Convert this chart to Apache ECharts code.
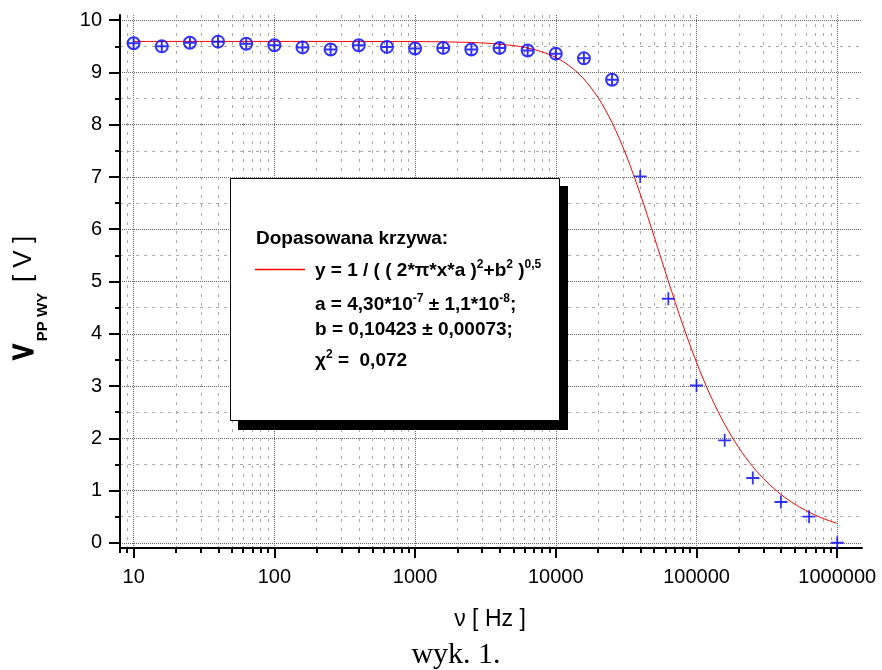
<!DOCTYPE html>
<html>
<head>
<meta charset="utf-8">
<script src="https://cdn.jsdelivr.net/npm/echarts@6/dist/echarts.min.js"></script>
<style>
  html, body { margin: 0; padding: 0; background: #fff; }
  #chart { width: 882px; height: 670px; }
</style>
</head>
<body>
<div id="chart"></div>
<script>
// pomiary: czestotliwosc [Hz] i napiecie V_PP WY [V]
const freq = [10, 15.85, 25.12, 39.81, 63.1, 100, 158.5, 251.2, 398.1, 631, 1000, 1585, 2512, 3981, 6310,
  10000, 15849, 25119, 39811, 63096, 100000, 158489, 251189, 398107, 630957, 1000000]
const volt = [9.56, 9.50, 9.57, 9.59, 9.55, 9.52, 9.48, 9.44, 9.52, 9.49, 9.46, 9.47, 9.44, 9.47, 9.42,
  9.36, 9.27, 8.86, 7.01, 4.67, 3.01, 1.96, 1.24, 0.78, 0.50, 0.00]
// pierwsze punkty rysowane jako kolko z krzyzykiem
const circled = 18

// dopasowana krzywa
const fitX = [10, 100, 1000, 2000, 3162, 5012, 6310, 7943, 10000, 12589, 15849, 19953, 25119, 31623, 39811,
  50119, 63096, 79433, 100000, 125893, 158489, 199526, 251189, 316228, 398107, 501187, 630957, 794328, 1000000]
const fitY = [9.594, 9.594, 9.591, 9.581, 9.562, 9.514, 9.468, 9.397, 9.287, 9.121, 8.874, 8.522, 8.040, 7.420, 6.677,
  5.852, 5.005, 4.191, 3.453, 2.811, 2.269, 1.821, 1.456, 1.162, 0.925, 0.736, 0.586, 0.465, 0.370]

// podzialki
const xMajor = [10, 100, 1000, 10000, 100000, 1000000]
const xMinor = [8, 9, 20, 30, 40, 50, 60, 70, 80, 90, 200, 300, 400, 500, 600, 700, 800, 900,
  2000, 3000, 4000, 5000, 6000, 7000, 8000, 9000, 20000, 30000, 40000, 50000, 60000, 70000, 80000, 90000,
  200000, 300000, 400000, 500000, 600000, 700000, 800000, 900000]
const yMajor = [0, 1, 2, 3, 4, 5, 6, 7, 8, 9, 10]
const yMinor = [0.5, 1.5, 2.5, 3.5, 4.5, 5.5, 6.5, 7.5, 8.5, 9.5]

const circlePlus = 'path://M1,10A9,9,0,1,1,19,10A9,9,0,1,1,1,10ZM1,10L19,10M10,1L10,19'
const plus = 'path://M0,10L20,10M10,0L10,20'
const sans = '"Liberation Sans", Arial, sans-serif'

const richLegend = {
  n: { fontFamily: sans, fontSize: 19, fontWeight: 'bold', lineHeight: 24, fill: '#000' },
  s: { fontFamily: sans, fontSize: 12, fontWeight: 'bold', lineHeight: 14, verticalAlign: 'top', fill: '#000' }
}

const chart = echarts.init(document.getElementById('chart'))
chart.setOption({
  animation: false,
  grid: { left: 120, right: 20, top: 15, bottom: 122 },
  xAxis: [{
    type: 'log',
    min: 8,
    max: 1500000,
    position: 'bottom',
    axisLine: { onZero: false, lineStyle: { color: '#000', width: 2 } },
    axisTick: { customValues: xMajor, length: 10, lineStyle: { color: '#000', width: 2 } },
    axisLabel: {
      customValues: xMajor, margin: 19, color: '#000', fontFamily: sans, fontSize: 20,
      formatter: v => String(Math.round(v))
    },
    splitLine: { show: true, lineStyle: { color: '#666', type: 'dotted', width: 1 } }
  }, {
    type: 'log',
    min: 8,
    max: 1500000,
    position: 'bottom',
    axisLine: { show: false, onZero: false },
    axisTick: { customValues: xMinor, length: 5, lineStyle: { color: '#000', width: 2 } },
    axisLabel: { show: false },
    splitLine: { show: true, lineStyle: { color: '#aaa', type: [3, 6], width: 1 } }
  }],
  yAxis: [{
    type: 'value',
    min: -0.1,
    max: 10.1,
    position: 'left',
    axisLine: { show: true, onZero: false, lineStyle: { color: '#000', width: 2 } },
    axisTick: { show: true, customValues: yMajor, length: 11, lineStyle: { color: '#000', width: 2 } },
    axisLabel: { customValues: yMajor, margin: 18, color: '#000', fontFamily: sans, fontSize: 20 },
    splitLine: { show: true, lineStyle: { color: '#666', type: 'dotted', width: 1 } }
  }, {
    type: 'value',
    min: -0.1,
    max: 10.1,
    position: 'left',
    axisLine: { show: false, onZero: false },
    axisTick: { show: true, customValues: yMinor, length: 5, lineStyle: { color: '#000', width: 2 } },
    axisLabel: { show: false },
    splitLine: { show: true, lineStyle: { color: '#aaa', type: [3, 5], width: 1 } }
  }],
  series: [{
    type: 'line',
    data: fitX.map((x, i) => [x, fitY[i]]),
    showSymbol: false,
    smooth: 0.3,
    silent: true,
    lineStyle: { color: '#ff0000', width: 1 },
    z: 2
  }, {
    type: 'scatter',
    data: freq.slice(0, circled).map((x, i) => [x, volt[i]]),
    symbol: circlePlus,
    symbolSize: 12,
    silent: true,
    itemStyle: { color: 'transparent', borderColor: '#0000ff', borderWidth: 2 },
    z: 3
  }, {
    type: 'scatter',
    data: freq.slice(circled).map((x, i) => [x, volt[i + circled]]),
    symbol: plus,
    symbolSize: 13,
    silent: true,
    itemStyle: { color: 'transparent', borderColor: '#0000ff', borderWidth: 1.8 },
    z: 3
  }],
  graphic: [
    // legenda z cieniem
    { type: 'rect', z: 100, shape: { x: 238, y: 186, width: 330, height: 244 }, style: { fill: '#000' } },
    { type: 'rect', z: 101, shape: { x: 230.5, y: 178.5, width: 329, height: 242 }, style: { fill: '#fff', stroke: '#000', lineWidth: 1 } },
    { type: 'text', z: 102, x: 256, y: 239, style: { text: 'Dopasowana krzywa:', font: 'bold 19px ' + sans, fill: '#000', align: 'left', verticalAlign: 'middle' } },
    { type: 'line', z: 103, shape: { x1: 255, y1: 269.5, x2: 305, y2: 269.5 }, style: { stroke: '#ff0000', lineWidth: 1.3, fill: null } },
    {
      type: 'text', z: 102, x: 315, y: 271,
      style: { text: '{n|y = 1 / ( ( 2*π*x*a )}{s|2}{n|+b}{s|2}{n| )}{s|0,5}', align: 'left', verticalAlign: 'middle', rich: richLegend }
    },
    {
      type: 'text', z: 102, x: 315, y: 305,
      style: { text: '{n|a = 4,30*10}{s|-7}{n| ± 1,1*10}{s|-8}{n|;}', align: 'left', verticalAlign: 'middle', rich: richLegend }
    },
    { type: 'text', z: 102, x: 315, y: 330, style: { text: 'b = 0,10423 ± 0,00073;', font: 'bold 19px ' + sans, fill: '#000', align: 'left', verticalAlign: 'middle' } },
    {
      type: 'text', z: 102, x: 315, y: 361,
      style: { text: '{n|χ}{s|2}{n| =  0,072}', align: 'left', verticalAlign: 'middle', rich: richLegend }
    },
    // opis osi Y
    { type: 'text', x: 25, y: 352, rotation: Math.PI / 2, scaleX: 0.8, style: { text: 'V', font: 'bold 30px ' + sans, fill: '#000', stroke: '#000', lineWidth: 1.2, align: 'center', verticalAlign: 'middle' } },
    { type: 'text', x: 43, y: 317, rotation: Math.PI / 2, style: { text: 'PP WY', font: 'bold 15px ' + sans, fill: '#000', align: 'center', verticalAlign: 'middle' } },
    { type: 'text', x: 24, y: 259, rotation: Math.PI / 2, style: { text: '[ V ]', font: '26px ' + sans, fill: '#000', align: 'center', verticalAlign: 'middle' } },
    // opis osi X i podpis
    { type: 'text', x: 490, y: 620, style: { text: 'ν [ Hz ]', font: '23px ' + sans, fill: '#000', align: 'center', verticalAlign: 'middle' } },
    { type: 'text', x: 456, y: 655, style: { text: 'wyk. 1.', font: '30px "Liberation Serif", "Times New Roman", serif', fill: '#000', align: 'center', verticalAlign: 'middle' } }
  ]
})
</script>
</body>
</html>
